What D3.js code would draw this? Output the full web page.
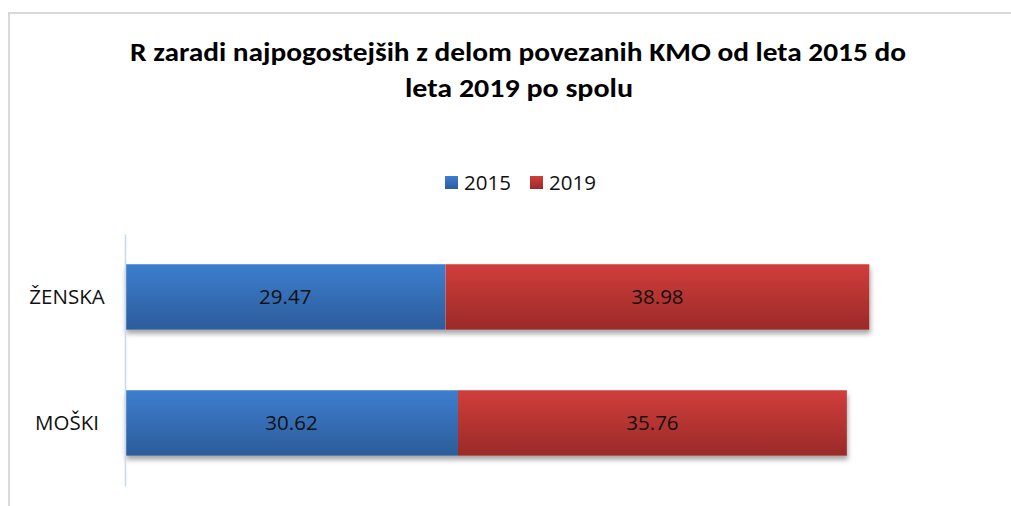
<!DOCTYPE html>
<html><head><meta charset="utf-8">
<script src="https://cdn.jsdelivr.net/npm/d3@7"></script>
<style>body{margin:0;background:#fff}svg{display:block}</style>
</head><body>
<script>
const categories = ["ŽENSKA", "MOŠKI"];
const seriesNames = ["2015", "2019"];
const values2015 = [29.47, 30.62];
const values2019 = [38.98, 35.76];
const titleLines = ["R zaradi najpogostejših z delom povezanih KMO od leta 2015 do", "leta 2019 po spolu"];

const W = 1011, H = 506;
const svg = d3.select("body").append("svg").attr("width", W).attr("height", H);
const defs = svg.append("defs");
function grad(id, top, bottom){
  const g = defs.append("linearGradient").attr("id", id).attr("x1",0).attr("y1",0).attr("x2",0).attr("y2",1);
  g.append("stop").attr("offset","0%").attr("stop-color", top);
  g.append("stop").attr("offset","100%").attr("stop-color", bottom);
}
grad("gBlue", "#3d7ecf", "#2c5c9a");
grad("gRed", "#d03e3b", "#9a2a28");
const f = defs.append("filter").attr("id","shadow").attr("x","-5%").attr("y","-20%").attr("width","110%").attr("height","160%");
f.append("feDropShadow").attr("dx",1).attr("dy",4).attr("stdDeviation",2.5).attr("flood-color","#000").attr("flood-opacity",0.35);

// chart border
svg.append("path").attr("d", `M9,${H+5} V13 H${W+5}`).attr("fill","none").attr("stroke","#d9d9d9").attr("stroke-width",2);

// title
const tfont = "Carlito, Calibri, 'Open Sans', sans-serif";
const font = "'Open Sans', sans-serif";
svg.append("text").attr("x", 518).attr("y", 61).attr("text-anchor","middle")
  .attr("font-family", tfont).attr("font-weight","bold").attr("font-size", 27).attr("fill","#000")
  .attr("textLength", 776).attr("lengthAdjust","spacingAndGlyphs").text(titleLines[0]);
svg.append("text").attr("x", 519).attr("y", 97).attr("text-anchor","middle")
  .attr("font-family", tfont).attr("font-weight","bold").attr("font-size", 27).attr("fill","#000")
  .attr("textLength", 228).attr("lengthAdjust","spacingAndGlyphs").text(titleLines[1]);

// scales
const x = d3.scaleLinear().domain([0, 80]).range([125, 995]);
const y = d3.scaleBand().domain(categories).range([234, 486]).paddingInner(0.48).paddingOuter(0.24);

const data = categories.map((c,i)=>({cat:c, "2015":values2015[i], "2019":values2019[i]}));
const stack = d3.stack().keys(seriesNames)(data);
const fills = {"2015":"url(#gBlue)", "2019":"url(#gRed)"};

const gBars = svg.append("g");
gBars.selectAll("rect.sh").data(data).join("rect")
  .attr("x", x(0)).attr("y", d=>y(d.cat)).attr("width", d=>x(d["2015"]+d["2019"])-x(0)).attr("height", y.bandwidth())
  .attr("fill","#fff").attr("filter","url(#shadow)");
stack.forEach(s=>{
  gBars.selectAll(null).data(s).join("rect")
    .attr("x", d=>x(d[0])).attr("y", d=>y(d.data.cat))
    .attr("width", d=>x(d[1])-x(d[0])).attr("height", y.bandwidth())
    .attr("fill", fills[s.key]);
  gBars.selectAll(null).data(s).join("text")
    .attr("x", d=>(x(d[0])+x(d[1]))/2).attr("y", d=>y(d.data.cat)+y.bandwidth()/2)
    .attr("dy","0.36em").attr("text-anchor","middle")
    .attr("font-family", font).attr("font-size", 20.5).attr("fill","#111")
    .text(d=>d3.format(".2f")(d[1]-d[0]));
});

// axis
const axis = d3.axisLeft(y).tickSize(0).tickPadding(20);
const ga = svg.append("g").attr("transform",`translate(${x(0)},0)`).call(axis);
ga.select(".domain").attr("stroke","#c6d9f0").attr("stroke-width",1.5);
ga.selectAll(".tick text").attr("x", 67 - x(0)).attr("text-anchor","middle")
  .attr("font-family", font).attr("font-size", 20.5).attr("fill","#111");

// legend
const lg = svg.append("g");
const legendX = [445, 530];
seriesNames.forEach((k,i)=>{
  lg.append("rect").attr("x", legendX[i]).attr("y", 176).attr("width", 13).attr("height", 13).attr("fill", fills[k]);
  lg.append("text").attr("x", legendX[i]+19).attr("y", 183).attr("dy","0.36em")
    .attr("font-family", font).attr("font-size", 20.5).attr("fill","#111").text(k);
});
</script>
</body></html>
